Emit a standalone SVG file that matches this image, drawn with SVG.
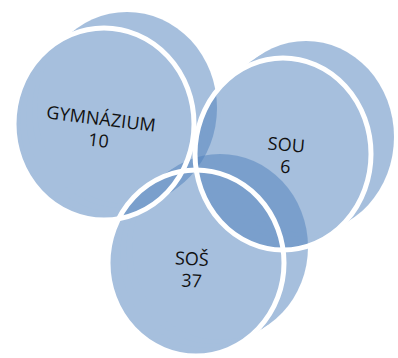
<svg xmlns="http://www.w3.org/2000/svg" width="398" height="358" viewBox="0 0 398 358">
<style>
.disc ellipse{fill:#4F81BD}
.disc{opacity:0.5}
.rim{fill:none;stroke:#fff;stroke-width:5}
.lbl{font-family:"Open Sans","Liberation Sans",sans-serif;font-size:18px;fill:#111;text-anchor:middle}
</style>
<g id="gymnazium">
<g class="disc">
<ellipse cx="104" cy="124" rx="90" ry="96"/><ellipse cx="110" cy="120" rx="90" ry="96"/><ellipse cx="116" cy="116" rx="90" ry="96"/><ellipse cx="122" cy="112" rx="90" ry="96"/><ellipse cx="127" cy="108" rx="90" ry="96"/>
</g>
</g>
<g id="sou">
<g class="disc">
<ellipse cx="283" cy="154" rx="88" ry="96"/><ellipse cx="289" cy="150" rx="88" ry="96"/><ellipse cx="295" cy="145" rx="88" ry="96"/><ellipse cx="300" cy="141" rx="88" ry="96"/><ellipse cx="306" cy="137" rx="88" ry="96"/>
</g>
</g>
<g id="sos">
<g class="disc">
<ellipse cx="196" cy="263" rx="88" ry="93"/><ellipse cx="202" cy="259" rx="88" ry="93"/><ellipse cx="208" cy="255" rx="88" ry="93"/><ellipse cx="214" cy="251" rx="88" ry="93"/><ellipse cx="220" cy="247" rx="88" ry="93"/>
</g>
</g>
<g id="rims">
<ellipse class="rim" cx="104" cy="124" rx="90" ry="96"/>
<ellipse class="rim" cx="283" cy="154" rx="88" ry="96"/>
<ellipse class="rim" cx="196" cy="263" rx="88" ry="93"/>
</g>
<g id="labels">
<text class="lbl" transform="rotate(7 100 128)"><tspan x="100" y="125" textLength="110">GYMNÁZIUM</tspan><tspan x="100" y="147">10</tspan></text>
<text class="lbl" transform="rotate(5 285 160)"><tspan x="285" y="151">SOU</tspan><tspan x="286" y="173">6</tspan></text>
<text class="lbl" transform="rotate(3 191 275)"><tspan x="191" y="265">SOŠ</tspan><tspan x="192" y="287">37</tspan></text>
</g>
</svg>
